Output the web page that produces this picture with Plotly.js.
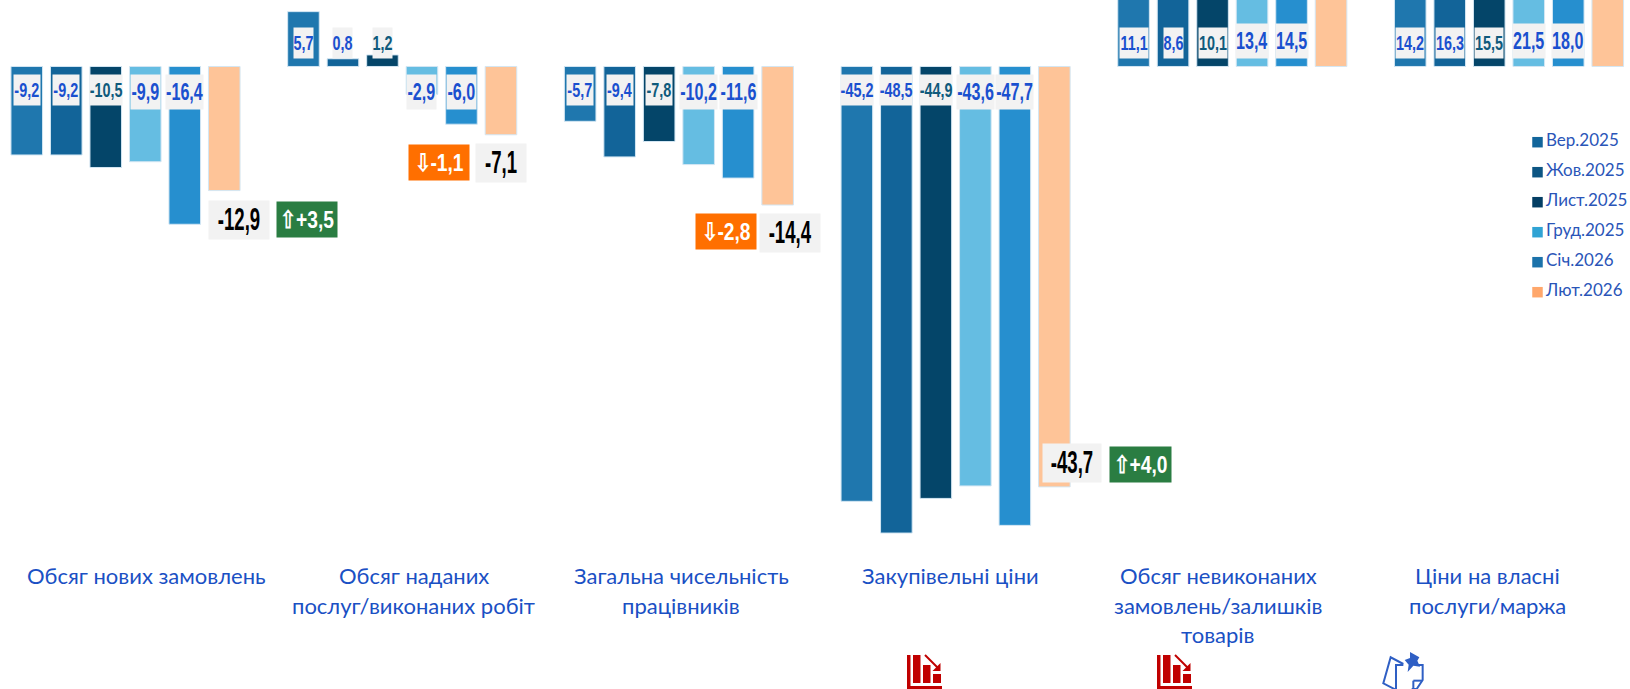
<!DOCTYPE html>
<html><head><meta charset="utf-8">
<script src="https://cdn.plot.ly/plotly-3.0.1.min.js"></script>
<style>html,body{margin:0;padding:0;background:#fff}#c{width:1630px;height:689px}</style>
</head><body><div id="c"></div>
<script>
const categories=['Обсяг нових замовлень','Обсяг наданих послуг/виконаних робіт','Загальна чисельність працівників','Закупівельні ціни','Обсяг невиконаних замовлень/залишків товарів','Ціни на власні послуги/маржа'];
const months=['Вер.2025','Жов.2025','Лист.2025','Груд.2025','Січ.2026','Лют.2026'];
const sep2025=[-9.2,5.7,-5.7,-45.2,11.1,14.2];
const oct2025=[-9.2,0.8,-9.4,-48.5,8.6,16.3];
const nov2025=[-10.5,1.2,-7.8,-44.9,10.1,15.5];
const dec2025=[-9.9,-2.9,-10.2,-43.6,13.4,21.5];
const jan2026=[-16.4,-6.0,-11.6,-47.7,14.5,18.0];
const feb2026=[-12.9,-7.1,-14.4,-43.7,15.0,20.0];
const changes=['+3,5','-1,1','-2,8','+4,0'];
const titleLines=[['Обсяг нових замовлень'],['Обсяг наданих','послуг/виконаних робіт'],['Загальна чисельність','працівників'],['Закупівельні ціни'],['Обсяг невиконаних','замовлень/залишків','товарів'],['Ціни на власні','послуги/маржа']];

const W=1630,H=689,slot=39.5;
const series=[sep2025,oct2025,nov2025,dec2025,jan2026,feb2026];
const barColors=['#1f77ae','#126499','#044569','#65bde2','#268fcf','#fec498'];
const swatchColors=['#12659b','#0c5583','#033e64','#30a3d4','#1b72aa','#ffa76b'];
const titleCx=[146,414,681,950,1218,1487];
const fontN='"Liberation Sans",Arial,sans-serif';
const fontT='Lato,"Noto Sans",sans-serif';
const blue='#1a50cf',teal='#0f5a7c',red='#c00000',iconBlue='#2f5fc4';
const fmt=v=>v.toFixed(1).replace('.',',');
const SMALL=20,BIG=23,FEB=31,DELTA=24;
const squeeze={[SMALL]:0.72,[BIG]:0.7,[FEB]:0.6,[DELTA]:0.8};
function boxWidth(txt,big){
 const neg=txt[0]=='-',two=txt.replace('-','').indexOf(',')==2;
 if(big) return neg?(two?37:28.5):31.5;
 return neg?(two?32:25.5):(two?28:19);
}
const traces=series.map((vals,j)=>({type:'bar',name:months[j],x:categories,y:vals,
 marker:{color:barColors[j],line:{color:'#d3e6f3',width:1}},hoverinfo:'skip'}));

const layout={width:W,height:H,margin:{l:0,r:0,t:0,b:0},paper_bgcolor:'#fff',plot_bgcolor:'#fff',showlegend:false,
 barmode:'group',bargap:0.1435,bargroupgap:0.2,
 xaxis:{domain:[0,1],type:'category',categoryorder:'array',categoryarray:categories,range:[-0.4536,5.4373],visible:false,fixedrange:true},
 yaxis:{range:[-64.71,6.91],domain:[0,1],visible:false,fixedrange:true},
 annotations:[],shapes:[]};

// value labels near the base of bars
series.forEach((vals,j)=>{
 if(j==5) return;
 const big=j>=3;
 vals.forEach((v,i)=>{
  const t=fmt(v);
  layout.annotations.push({xref:'x',yref:'y',x:categories[i],y:0,xshift:(j-2.5)*slot,showarrow:false,text:t,
   yshift:v>0?(big?25.5:23):(big?-25.5:-23.5),
   font:{family:fontN,size:big?BIG:SMALL,color:j==2?teal:blue,weight:700},
   bgcolor:'#f2f2f2',borderpad:0,height:big?34:30,width:boxWidth(t,big)});
 });
});
// February values and change boxes
const febBoxes=[
 {dx:15,dy:-29,w:60,cdx:83,cdy:-29,cw:60},
 {dx:0,dy:-28,w:50,cdx:-62,cdy:-28,cw:60},
 {dx:12.5,dy:-28,w:60,cdx:-52,cdy:-26,cw:60},
 {dx:18,dy:24,w:58,cdx:86,cdy:22,cw:61}];
febBoxes.forEach((b,i)=>{
 const v=feb2026[i],xs=2.5*slot;
 layout.annotations.push({xref:'x',yref:'y',x:categories[i],y:v,xshift:xs+b.dx,yshift:b.dy,showarrow:false,text:fmt(v),
  font:{family:fontN,size:FEB,color:'#000',weight:700},bgcolor:'#f2f2f2',borderpad:0,height:38,width:b.w});
 const up=changes[i][0]=='+';
 layout.annotations.push({xref:'x',yref:'y',x:categories[i],y:v,xshift:xs+b.cdx,yshift:b.cdy,showarrow:false,
  text:(up?'⇧':'⇩')+changes[i],
  font:{family:fontN,size:DELTA,color:'#fff',weight:700},bgcolor:up?'#2a7d42':'#ff6f00',borderpad:0,height:35,width:b.cw});
});
// legend panel
layout.xaxis2={domain:[1532/W,1630/W],range:[0,98],visible:false,anchor:'y2',fixedrange:true};
layout.yaxis2={domain:[(H-307.2)/H,(H-127.2)/H],type:'category',categoryorder:'array',categoryarray:months.slice().reverse(),visible:false,anchor:'x2',fixedrange:true,range:[-0.5,5.5]};
traces.push({type:'scatter',mode:'markers',x:months.map(()=>5.5),y:months,xaxis:'x2',yaxis:'y2',
 cliponaxis:false,marker:{symbol:'square',size:10.5,color:swatchColors},hoverinfo:'skip'});
traces.push({type:'scatter',mode:'text',x:months.map(()=>14),y:months,xaxis:'x2',yaxis:'y2',text:months,textposition:'middle right',
 cliponaxis:false,textfont:{family:fontT,size:17,color:'#2a55b8'},hoverinfo:'skip'});
// category titles
titleLines.forEach((lines,i)=>{
 lines.forEach((t,n)=>layout.annotations.push({xref:'paper',yref:'paper',x:titleCx[i]/W,y:1-(575.7+n*29.5)/H,showarrow:false,text:t,
  font:{family:fontT,size:22,color:'#1a50c4'},xanchor:'center',yanchor:'middle'}));
});
// decorative icons at the bottom edge, given in page pixels
const pp=(x,y)=>(x/W).toFixed(5)+','+(1-y/H).toFixed(5);
const path=(pts,close)=>'M'+pts.map(p=>pp(p[0],p[1])).join('L')+(close?'Z':'');
const addPath=(pts,o)=>layout.shapes.push(Object.assign({type:'path',xref:'paper',yref:'paper',layer:'above',path:path(pts,o.fill)},
  {fillcolor:o.fill||'rgba(0,0,0,0)',line:{color:o.color,width:o.width||0}}));
function chartIcon(x0){
 const rect=(a,b,c,d)=>addPath([[x0+a,b],[x0+c,b],[x0+c,d],[x0+a,d]],{fill:red,color:red});
 rect(0,655,3.5,689);rect(0,686,35,689);
 rect(6,655,13.5,683);rect(16,665,23.5,683);rect(26,674,34,683);
 addPath([[x0+18,655],[x0+31,668]],{color:red,width:2});
 addPath([[x0+33.5,671],[x0+33.5,663],[x0+25.5,671]],{fill:red,color:red});
}
chartIcon(907);chartIcon(1157);
const px=v=>1370+v/3,py=v=>650+v/3;
const ln=(pts)=>addPath(pts.map(p=>[px(p[0]),py(p[1])]),{color:iconBlue,width:2});
ln([[100,42],[62,22],[40,100],[75,118]]);
ln([[100,45],[78,45],[78,118]]);
ln([[140,45],[158,45],[158,90],[140,117],[125,117]]);
ln([[130,92],[130,117]]);ln([[130,92],[156,92]]);
addPath([[120,6],[148,22],[142,32],[150,50],[130,47],[113,66],[116,44],[104,30],[120,24]].map(p=>[px(p[0]),py(p[1])]),{fill:iconBlue,color:iconBlue});

Plotly.newPlot('c',traces,layout,{displayModeBar:false,staticPlot:true}).then(()=>{
 document.querySelectorAll('.annotation [clip-path],.annotation[clip-path]').forEach(n=>{n.removeAttribute('clip-path');n.style.clipPath='none';});
 document.querySelectorAll('text.annotation-text').forEach(t=>{
  const s=parseFloat(t.style.fontSize);
  if(t.style.fontFamily.indexOf('Liberation')<0||!squeeze[s]) return;
  t.style.transformBox='fill-box';t.style.transformOrigin='center';t.style.transform='scaleX('+squeeze[s]+')';
 });
});
</script></body></html>
